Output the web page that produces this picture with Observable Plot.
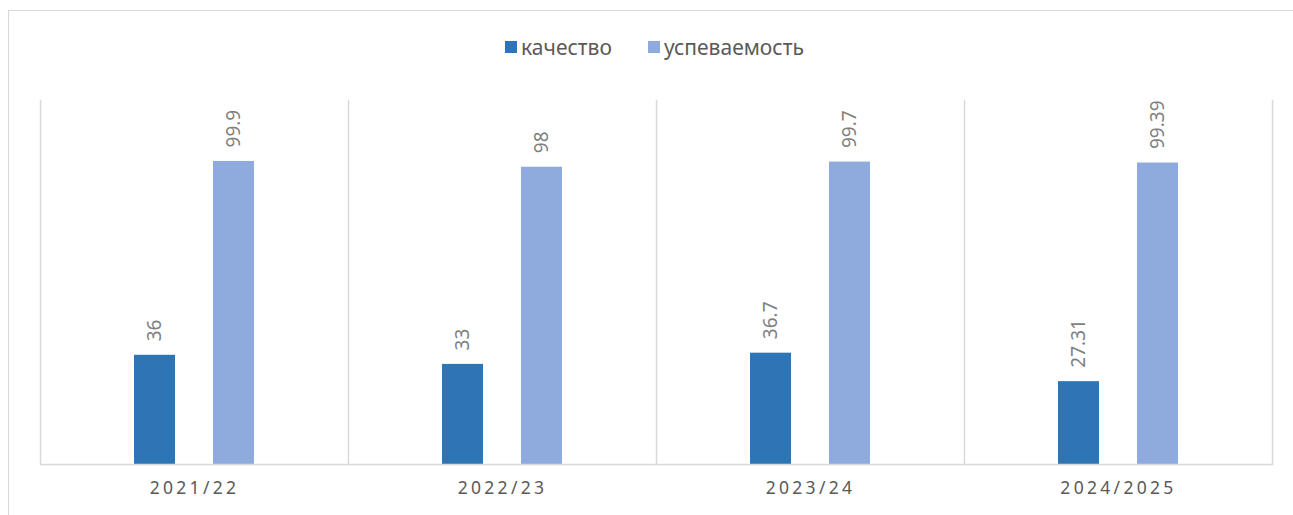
<!DOCTYPE html>
<html>
<head>
<meta charset="utf-8">
<script src="https://cdn.jsdelivr.net/npm/d3@7"></script>
<script src="https://cdn.jsdelivr.net/npm/@observablehq/plot@0.6"></script>
<style>
  html, body { margin: 0; padding: 0; background: #fff; overflow: hidden; }
  #wrap { position: relative; width: 1293px; height: 515px; }
  #border { position: absolute; left: 8px; top: 10px; width: 1300px; height: 520px; border: 1.5px solid #d9d9d9; box-sizing: border-box; }
  #chart { position: absolute; left: 0; top: 0; }
  #legend { position: absolute; left: 8px; top: 33px; width: 1293px; display: flex; justify-content: center; gap: 36px;
            font-family: "Noto Sans", sans-serif; font-size: 21px; color: #595959; }
  #legend .item { display: flex; align-items: center; gap: 4px; }
  #legend .sw { width: 12px; height: 12px; display: inline-block; }
</style>
</head>
<body>
<div id="wrap">
  <div id="border"></div>
  <div id="chart"></div>
  <div id="legend"></div>
</div>
<script>
const years = ["2021/22", "2022/23", "2023/24", "2024/2025"];
const series = ["качество", "успеваемость"];
const quality = [36, 33, 36.7, 27.31];
const progress = [99.9, 98, 99.7, 99.39];
const colors = ["#2E75B6", "#8FAADC"];

const table = [];
years.forEach((y, i) => {
  table.push({year: y, series: series[0], value: quality[i]});
  table.push({year: y, series: series[1], value: progress[i]});
});

const legend = document.getElementById("legend");
series.forEach((s, i) => {
  const it = document.createElement("div");
  it.className = "item";
  it.innerHTML = `<span class="sw" style="background:${colors[i]}"></span><span>${s}</span>`;
  legend.appendChild(it);
});

const chart = Plot.plot({
  width: 1293,
  height: 515,
  marginLeft: 38,
  marginRight: 20,
  marginTop: 100,
  marginBottom: 51,
  style: {fontFamily: "Noto Sans, sans-serif", fontSize: "17.5px", background: "transparent", color: "#595959"},
  fx: {domain: years, padding: 0, label: null, axis: "bottom", tickSize: 0, tickPadding: 17},
  x: {domain: series, paddingInner: 0.475, paddingOuter: 1.169, axis: null},
  y: {domain: [0, 120], axis: null},
  color: {domain: series, range: colors},
  marks: [
    Plot.frame({anchor: "left", stroke: "#d9d9d9", strokeWidth: 1.5}),
    Plot.frame({anchor: "right", stroke: "#d9d9d9", strokeWidth: 1.5, fx: [years[years.length - 1]]}),
    Plot.barY(table, {fx: "year", x: "series", y: "value", fill: "series"}),
    Plot.ruleY([0], {stroke: "#d9d9d9", strokeWidth: 1.5}),
    Plot.text(table, {fx: "year", x: "series", y: "value", text: d => String(d.value),
      rotate: -90, textAnchor: "start", lineAnchor: "middle", dy: -14,
      fill: "#7f7f7f", fontSize: 19})
  ]
});
document.getElementById("chart").appendChild(chart);
d3.select(chart).selectAll("[aria-label='fx-axis tick label'] text, [aria-label='fx-axis'] text")
  .style("letter-spacing", "3.3px").attr("fill", "#595959");
</script>
</body>
</html>
